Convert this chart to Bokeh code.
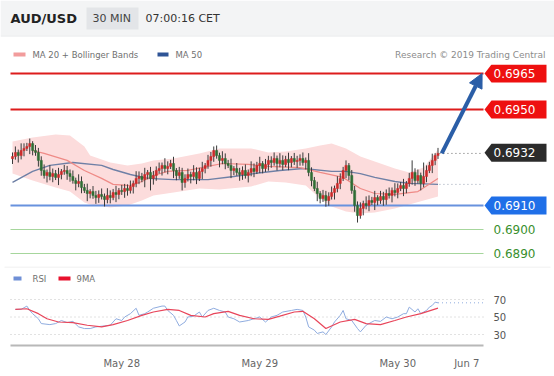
from bokeh.plotting import figure
from bokeh.layouts import column
from bokeh.models import Range1d, Label, FixedTicker, Arrow, NormalHead
from bokeh.core.properties import value
from bokeh.embed import file_html
from bokeh.resources import INLINE

# ---------------- data ----------------
symbol = "AUD/USD"
timeframe = "30 MIN"
timestamp = "07:00:16 CET"
credit = "Research \u00a9 2019 Trading Central"

tick_idx = [38, 86, 134, 158]
tick_labels = ["May 28", "May 29", "May 30", "Jun 7"]

opens = [0.69295,0.69304,0.69321,0.69308,0.69329,0.69338,0.69346,0.69358,0.69329,0.69321,
         0.69288,0.69246,0.69225,0.69238,0.69221,0.69233,0.69217,0.69229,0.69242,0.69246,
         0.69233,0.69221,0.69204,0.69192,0.69200,0.69175,0.69163,0.69150,0.69158,0.69142,
         0.69133,0.69146,0.69138,0.69125,0.69142,0.69133,0.69154,0.69146,0.69163,0.69158,
         0.69171,0.69163,0.69179,0.69192,0.69213,0.69221,0.69208,0.69229,0.69238,0.69213,
         0.69225,0.69246,0.69254,0.69267,0.69254,0.69263,0.69275,0.69246,0.69225,0.69238,
         0.69196,0.69213,0.69229,0.69221,0.69238,0.69213,0.69242,0.69254,0.69267,0.69288,
         0.69304,0.69329,0.69308,0.69288,0.69296,0.69275,0.69267,0.69246,0.69254,0.69238,
         0.69229,0.69246,0.69225,0.69238,0.69254,0.69242,0.69267,0.69275,0.69254,0.69271,
         0.69288,0.69279,0.69296,0.69275,0.69288,0.69271,0.69292,0.69279,0.69296,0.69283,
         0.69288,0.69296,0.69279,0.69288,0.69238,0.69204,0.69171,0.69150,0.69129,0.69142,
         0.69121,0.69138,0.69154,0.69171,0.69192,0.69213,0.69246,0.69267,0.69225,0.69163,
         0.69100,0.69058,0.69088,0.69108,0.69100,0.69121,0.69113,0.69133,0.69121,0.69138,
         0.69125,0.69150,0.69142,0.69163,0.69154,0.69171,0.69183,0.69171,0.69192,0.69213,
         0.69238,0.69204,0.69225,0.69192,0.69221,0.69246,0.69267,0.69288,0.69308]
closes = [0.69304,0.69321,0.69308,0.69329,0.69338,0.69346,0.69358,0.69329,0.69321,0.69288,
          0.69246,0.69225,0.69238,0.69221,0.69233,0.69217,0.69229,0.69242,0.69246,0.69233,
          0.69221,0.69204,0.69192,0.69200,0.69175,0.69163,0.69150,0.69158,0.69142,0.69133,
          0.69146,0.69138,0.69125,0.69142,0.69133,0.69154,0.69146,0.69163,0.69158,0.69171,
          0.69163,0.69179,0.69192,0.69213,0.69221,0.69208,0.69229,0.69238,0.69213,0.69225,
          0.69246,0.69254,0.69267,0.69254,0.69263,0.69275,0.69246,0.69225,0.69238,0.69196,
          0.69213,0.69229,0.69221,0.69238,0.69213,0.69242,0.69254,0.69267,0.69288,0.69304,
          0.69329,0.69308,0.69288,0.69296,0.69275,0.69267,0.69246,0.69254,0.69238,0.69229,
          0.69246,0.69225,0.69238,0.69254,0.69242,0.69267,0.69275,0.69254,0.69271,0.69288,
          0.69279,0.69296,0.69275,0.69288,0.69271,0.69292,0.69279,0.69296,0.69283,0.69288,
          0.69296,0.69279,0.69288,0.69238,0.69204,0.69171,0.69150,0.69129,0.69142,0.69121,
          0.69138,0.69154,0.69171,0.69192,0.69213,0.69246,0.69267,0.69225,0.69163,0.69100,
          0.69058,0.69088,0.69108,0.69100,0.69121,0.69113,0.69133,0.69121,0.69138,0.69125,
          0.69150,0.69142,0.69163,0.69154,0.69171,0.69183,0.69171,0.69192,0.69213,0.69238,
          0.69204,0.69225,0.69192,0.69221,0.69246,0.69267,0.69288,0.69308,0.69317]
highs = [0.69321,0.69346,0.69333,0.69359,0.69359,0.69361,0.69379,0.69368,0.69352,0.69340,
         0.69305,0.69271,0.69250,0.69268,0.69254,0.69248,0.69257,0.69252,0.69269,0.69265,
         0.69250,0.69246,0.69216,0.69230,0.69221,0.69190,0.69191,0.69168,0.69181,0.69161,
         0.69163,0.69171,0.69150,0.69172,0.69163,0.69169,0.69182,0.69173,0.69186,0.69190,
         0.69188,0.69204,0.69204,0.69243,0.69242,0.69236,0.69257,0.69248,0.69261,0.69244,
         0.69263,0.69279,0.69279,0.69297,0.69284,0.69290,0.69303,0.69256,0.69261,0.69257,
         0.69230,0.69254,0.69241,0.69268,0.69259,0.69257,0.69282,0.69277,0.69311,0.69323,
         0.69346,0.69350,0.69320,0.69326,0.69317,0.69290,0.69295,0.69264,0.69277,0.69257,
         0.69263,0.69271,0.69250,0.69284,0.69275,0.69282,0.69303,0.69285,0.69294,0.69307,
         0.69305,0.69321,0.69308,0.69318,0.69309,0.69307,0.69320,0.69306,0.69319,0.69307,
         0.69313,0.69321,0.69300,0.69318,0.69259,0.69219,0.69199,0.69160,0.69165,0.69161,
         0.69155,0.69179,0.69183,0.69222,0.69234,0.69261,0.69288,0.69277,0.69248,0.69182,
         0.69117,0.69113,0.69120,0.69138,0.69142,0.69136,0.69161,0.69143,0.69161,0.69157,
         0.69167,0.69175,0.69175,0.69193,0.69192,0.69198,0.69211,0.69202,0.69236,0.69288,
         0.69255,0.69250,0.69237,0.69279,0.69267,0.69282,0.69316,0.69318,0.69340]
lows = [0.69273,0.69291,0.69279,0.69292,0.69305,0.69327,0.69314,0.69309,0.69307,0.69262,
        0.69224,0.69212,0.69196,0.69205,0.69197,0.69206,0.69185,0.69209,0.69228,0.69207,
        0.69199,0.69191,0.69163,0.69176,0.69151,0.69152,0.69118,0.69130,0.69128,0.69107,
        0.69111,0.69125,0.69096,0.69109,0.69109,0.69122,0.69114,0.69126,0.69144,0.69132,
        0.69141,0.69150,0.69150,0.69176,0.69189,0.69197,0.69176,0.69209,0.69163,0.69187,
        0.69203,0.69233,0.69225,0.69238,0.69230,0.69252,0.69214,0.69205,0.69211,0.69163,
        0.69174,0.69200,0.69192,0.69205,0.69189,0.69202,0.69210,0.69234,0.69253,0.69262,
        0.69282,0.69295,0.69259,0.69272,0.69251,0.69256,0.69214,0.69226,0.69224,0.69203,
        0.69207,0.69212,0.69196,0.69222,0.69218,0.69231,0.69235,0.69234,0.69240,0.69245,
        0.69257,0.69266,0.69246,0.69259,0.69247,0.69260,0.69247,0.69259,0.69269,0.69257,
        0.69266,0.69266,0.69250,0.69222,0.69180,0.69160,0.69118,0.69109,0.69115,0.69095,
        0.69099,0.69125,0.69125,0.69155,0.69168,0.69202,0.69214,0.69205,0.69149,0.69074,
        0.69029,0.69045,0.69059,0.69084,0.69076,0.69102,0.69081,0.69101,0.69107,0.69099,
        0.69103,0.69129,0.69113,0.69138,0.69130,0.69160,0.69139,0.69151,0.69178,0.69187,
        0.69182,0.69191,0.69163,0.69176,0.69197,0.69235,0.69235,0.69268,0.69294]

ma50_idx = [0, 7, 13, 21, 31, 35, 41, 47, 56, 68, 77, 84, 93, 101, 111, 116, 121, 126, 133, 138, 148]
ma50 = [0.69196,0.69242,0.69267,0.69279,0.69267,0.69250,0.69229,0.69213,0.69208,0.69208,0.69221,
        0.69233,0.69246,0.69254,0.69242,0.69242,0.69233,0.69217,0.69200,0.69192,0.69188]

ma20_idx = [7, 11, 19, 25, 31, 35, 41, 45, 49, 54, 61, 68, 73, 82, 89, 100, 107, 115, 121, 126, 133, 141, 148]
ma20 = [0.69329,0.69317,0.69288,0.69246,0.69213,0.69188,0.69183,0.69200,0.69225,0.69242,0.69246,
        0.69263,0.69275,0.69271,0.69263,0.69258,0.69238,0.69217,0.69171,0.69150,0.69146,0.69158,0.69213]

bb_idx = [0, 7, 15, 20, 25, 27, 34, 40, 45, 49, 56, 65, 72, 83, 89, 95, 102, 107, 111, 116, 121, 126, 133, 138, 143, 148]
bb_upper = [0.69367,0.69383,0.69396,0.69392,0.69346,0.69308,0.69279,0.69267,0.69275,0.69288,0.69296,0.69317,0.69338,
            0.69338,0.69321,0.69325,0.69338,0.69350,0.69358,0.69338,0.69304,0.69283,0.69254,0.69238,0.69258,0.69333]
bb_lower = [0.69233,0.69204,0.69175,0.69158,0.69113,0.69104,0.69092,0.69100,0.69121,0.69142,0.69154,0.69171,0.69167,
            0.69179,0.69200,0.69196,0.69183,0.69129,0.69096,0.69075,0.69067,0.69071,0.69088,0.69104,0.69121,0.69138]

resistance_levels = [0.6965, 0.6950]
support_level = 0.6910
minor_support_levels = [0.6900, 0.6890]

rsi_idx = [1,3,5,6,7,9,10,13,15,17,19,21,23,25,27,29,32,34,36,38,39,41,43,44,46,47,49,52,53,54,
           56,57,58,60,61,63,65,66,68,70,72,74,75,77,79,82,84,86,88,90,92,94,97,99,101,102,103,105,106,108,
           109,111,112,114,115,116,118,120,121,123,125,126,128,130,132,134,136,137,138,140,141,142,144,145,146,147,148]
rsi = [58.7,58.7,62.5,57.5,53.8,48,42.5,41.3,42.5,46,43.6,45,38.7,36.8,36.8,38.7,39.8,40.6,48,46,
       50,53.8,60,51.9,53.8,55.7,60,62.5,62.5,57.5,51.9,46,39.8,44.3,50,51,55.7,50,57.5,60,
       57.5,55.7,50,48,44.3,46,48,50,44.3,50,51.9,55.7,57.5,58.7,57.5,50,38.7,35,31.2,33,
       30,38.7,44.3,51.9,57.5,48,46,36.8,33,40.6,44.3,46,45,50,48,50,53.8,53.8,61.3,55.7,
       59.4,53.8,57.5,61.3,63.2,67,66.2]
ma9_idx = [1,5,9,12,16,21,26,31,35,40,45,49,54,58,62,67,70,75,79,84,89,93,98,101,105,109,114,119,123,128,133,137,142,148]
rsi_ma9 = [58.7,59.4,53.8,48,44.3,43.6,40.6,38.7,41.3,46,51.9,55.7,58.7,57.5,51.9,50,53.8,56.5,51.9,48,
           47.3,51,55.7,56.5,48,36.8,44.3,47.3,42.5,41.3,46,50,53.8,60.2]
rsi_levels = [30, 50, 70]

# ---------------- layout constants ----------------
W = 554
PX_PER_BAR = 2.875
BAR0_PX = 12
CHART_X0 = (10 - BAR0_PX) / PX_PER_BAR
CHART_X1 = (483 - BAR0_PX) / PX_PER_BAR
PX_PER_PRICE = 24000.0
REF_Y_PX, REF_PRICE = 229, 0.6900
PX_PER_RSI = 0.875
FONT = "DejaVu Sans"

def bare(fig):
    fig.grid.visible = False
    fig.outline_line_color = None
    fig.background_fill_color = "white"
    fig.border_fill_color = "white"
    return fig

x_range = Range1d(-BAR0_PX / PX_PER_BAR, (W - BAR0_PX) / PX_PER_BAR)

# ---------------- header + legend strip ----------------
top = bare(figure(width=W, height=64, x_range=Range1d(0, W), y_range=Range1d(64, 0),
                  toolbar_location=None, output_backend="svg", min_border=0,
                  x_axis_location=None, y_axis_location=None))
top.quad(left=[0], right=[W], top=[0], bottom=[35], fill_color="#f3f4f5", line_color=None)
top.segment(x0=[0], y0=[35.5], x1=[W], y1=[35.5], line_color="#e6e8ea", line_width=1)
top.quad(left=[86], right=[138], top=[7], bottom=[29], fill_color="#e3e5e8", line_color=None)
top.add_layout(Label(x=10, y=18, text=symbol, text_font=FONT, text_font_size="13px",
                     text_font_style="bold", text_color="#222222", text_baseline="middle"))
top.add_layout(Label(x=92, y=18, text=timeframe, text_font=FONT, text_font_size="11px",
                     text_color="#444444", text_baseline="middle"))
top.add_layout(Label(x=145, y=18, text=timestamp, text_font=FONT, text_font_size="11px",
                     text_color="#333333", text_baseline="middle"))
top.quad(left=[13], right=[25], top=[52], bottom=[56], fill_color="#f29c9c", line_color=None)
top.add_layout(Label(x=32, y=54, text="MA 20 + Bollinger Bands", text_font=FONT, text_font_size="8.5px",
                     text_color="#707070", text_baseline="middle"))
top.quad(left=[157], right=[168], top=[52], bottom=[56], fill_color="#2f5496", line_color=None)
top.add_layout(Label(x=175, y=54, text="MA 50", text_font=FONT, text_font_size="8.5px",
                     text_color="#707070", text_baseline="middle"))
top.add_layout(Label(x=545, y=54, text=credit, text_font=FONT, text_font_size="9px",
                     text_color="#8c8c8c", text_baseline="middle", text_align="right"))

# ---------------- price panel ----------------
PH = 202
p_top_px, p_bot_px = 64, 64 + PH
y_hi = REF_PRICE + (REF_Y_PX - p_top_px) / PX_PER_PRICE
y_lo = REF_PRICE - (p_bot_px - REF_Y_PX) / PX_PER_PRICE

pp = bare(figure(width=W, height=PH, x_range=x_range, y_range=Range1d(y_lo, y_hi),
                 toolbar_location=None, output_backend="svg", min_border=0,
                 x_axis_location=None, y_axis_location=None))

pp.varea(x=bb_idx, y1=bb_lower, y2=bb_upper, fill_color="#fcdcdc", fill_alpha=1.0)
pp.line(x=ma50_idx, y=ma50, line_color="#6f80a6", line_width=1.4)
pp.line(x=ma20_idx, y=ma20, line_color="#ef8a86", line_width=1.2)

for lv in resistance_levels:
    pp.segment(x0=[CHART_X0], y0=[lv], x1=[CHART_X1], y1=[lv], line_color="#dd1c1c", line_width=2)
pp.segment(x0=[CHART_X0], y0=[support_level], x1=[CHART_X1], y1=[support_level],
           line_color="#6892de", line_width=2)
for lv in minor_support_levels:
    pp.segment(x0=[CHART_X0], y0=[lv], x1=[CHART_X1], y1=[lv], line_color="#a6d69c", line_width=1)

idx = list(range(len(closes)))
up_color, down_color = "#cc2b2b", "#2f6e35"
colors = [up_color if c >= o else down_color for o, c in zip(opens, closes)]
pp.segment(x0=idx, y0=lows, x1=idx, y1=highs, line_color="#3a3a3a", line_width=1)
pp.vbar(x=idx, width=0.75, top=[max(o, c) for o, c in zip(opens, closes)],
        bottom=[min(o, c) for o, c in zip(opens, closes)],
        fill_color=colors, line_color=colors, line_width=0.5)

last_i, last_c = idx[-1], closes[-1]
pp.segment(x0=[last_i + 0.5], y0=[last_c], x1=[CHART_X1], y1=[last_c],
           line_color="#666666", line_width=1, line_dash="1 3")
pp.segment(x0=[ma50_idx[-1] + 0.5], y0=[ma50[-1]], x1=[CHART_X1], y1=[ma50[-1]],
           line_color="#9aa3b5", line_width=1, line_dash="1 3")

pp.add_layout(Arrow(x_start=last_i + 1.3, y_start=last_c, x_end=CHART_X1 - 0.5, y_end=resistance_levels[0],
                    line_color="#2b5ea7", line_width=4,
                    end=NormalHead(size=14, fill_color="#2b5ea7", line_color="#2b5ea7")))

def box(level):
    tip = CHART_X1 + 1 / PX_PER_BAR
    b0 = CHART_X1 + 8 / PX_PER_BAR
    b1 = CHART_X1 + 63 / PX_PER_BAR
    h = 9 / PX_PER_PRICE
    return [tip, b0, b1, b1, b0], [level, level + h, level + h, level - h, level - h]

boxed = [(resistance_levels[0], "#ee1010"), (resistance_levels[1], "#ee1010"),
         (round(last_c, 4), "#2b2b2b"), (support_level, "#1f6fe8")]
bx, by, bc = [], [], []
for lv, col in boxed:
    xs, ys = box(lv)
    bx.append(xs); by.append(ys); bc.append(col)
pp.patches(xs=bx, ys=by, fill_color=bc, line_color=None)
text_x = CHART_X1 + 10 / PX_PER_BAR
pp.text(x=[text_x] * len(boxed), y=[b[0] for b in boxed], text=["%.4f" % b[0] for b in boxed],
        text_font=value(FONT), text_font_size="12px", text_color="white",
        text_baseline="middle", text_align="left")
pp.text(x=[text_x] * len(minor_support_levels), y=minor_support_levels,
        text=["%.4f" % v for v in minor_support_levels],
        text_font=value(FONT), text_font_size="12px", text_color="#3a8f2e",
        text_baseline="middle", text_align="left")

# ---------------- RSI legend strip ----------------
leg = bare(figure(width=W, height=22, x_range=Range1d(0, W), y_range=Range1d(22, 0),
                  toolbar_location=None, output_backend="svg", min_border=0,
                  x_axis_location=None, y_axis_location=None))
leg.segment(x0=[4], y0=[0.5], x1=[550], y1=[0.5], line_color="#ececec", line_width=1)
leg.quad(left=[13], right=[21], top=[10], bottom=[14], fill_color="#6f8fd6", line_color=None)
leg.add_layout(Label(x=32, y=12, text="RSI", text_font=FONT, text_font_size="8.5px",
                     text_color="#707070", text_baseline="middle"))
leg.quad(left=[58], right=[70], top=[10], bottom=[14], fill_color="#e8112d", line_color=None)
leg.add_layout(Label(x=76, y=12, text="9MA", text_font=FONT, text_font_size="8.5px",
                     text_color="#707070", text_baseline="middle"))

# ---------------- RSI panel ----------------
RH = 88
rr = figure(width=W, height=RH, x_range=x_range,
            y_range=Range1d(rsi_levels[0] - 11 / PX_PER_RSI, rsi_levels[-1] + 11 / PX_PER_RSI),
            toolbar_location=None, output_backend="svg", y_axis_location=None,
            min_border_left=0, min_border_right=0, min_border_top=0, min_border_bottom=31)
rr.outline_line_color = None
rr.background_fill_color = "white"
rr.border_fill_color = "white"
rr.grid.visible = False
rr.xaxis.ticker = FixedTicker(ticks=tick_idx)
rr.xaxis.bounds = (CHART_X0, CHART_X1)
rr.xaxis.major_label_overrides = {t: l for t, l in zip(tick_idx, tick_labels)}
rr.xaxis.axis_line_color = "#b8b8b8"
rr.xaxis.axis_line_width = 2
rr.xaxis.major_tick_line_color = None
rr.xaxis.minor_tick_line_color = None
rr.xaxis.major_label_standoff = 6
rr.xaxis.major_label_text_font = FONT
rr.xaxis.major_label_text_font_size = "10px"
rr.xaxis.major_label_text_color = "#666666"

for lv in rsi_levels:
    rr.segment(x0=[CHART_X0], y0=[lv], x1=[CHART_X1], y1=[lv],
               line_color="#c4c4c4", line_width=1, line_dash="1 3")
rr.text(x=[CHART_X1 + 10 / PX_PER_BAR] * len(rsi_levels), y=rsi_levels,
        text=[str(v) for v in rsi_levels], text_font=value(FONT), text_font_size="10px",
        text_color="#555555", text_baseline="middle", text_align="left")
rr.line(x=rsi_idx, y=rsi, line_color="#8facdf", line_width=1)
rr.line(x=ma9_idx, y=rsi_ma9, line_color="#e8455a", line_width=1.2)
rr.segment(x0=[rsi_idx[-1]], y0=[rsi[-1]], x1=[CHART_X1], y1=[rsi[-1]],
           line_color="#8facdf", line_width=1, line_dash="1 3")

layout = column(top, pp, leg, rr, spacing=0)
open("out.html", "w").write(file_html(layout, INLINE, title="AUD/USD"))
